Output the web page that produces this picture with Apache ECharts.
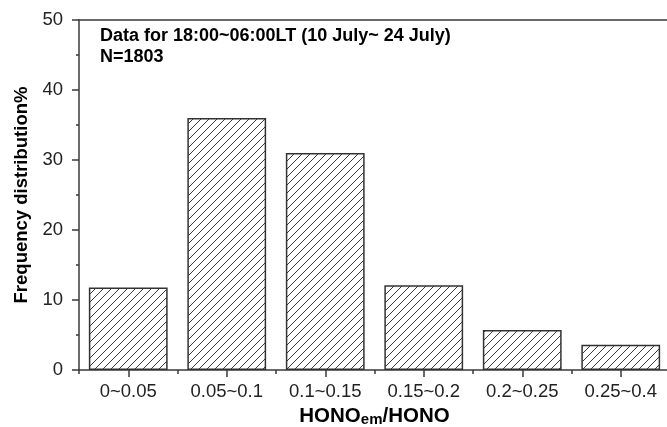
<!DOCTYPE html>
<html>
<head>
<meta charset="utf-8">
<script src="https://cdn.jsdelivr.net/npm/echarts@6/dist/echarts.min.js"></script>
<style>
  html, body { margin: 0; padding: 0; background: #fff; }
  #chart { width: 667px; height: 427px; }
</style>
</head>
<body>
<div id="chart"></div>
<script>
// ---- data ----
const categories = ['0~0.05', '0.05~0.1', '0.1~0.15', '0.15~0.2', '0.2~0.25', '0.25~0.4'];
const frequency = [11.8, 36.0, 31.0, 12.1, 5.7, 3.6];
const yTicks = [0, 10, 20, 30, 40, 50];
const annotationLines = ['Data for 18:00~06:00LT (10 July~ 24 July)', 'N=1803'];
const yAxisTitle = 'Frequency distribution%';

// ---- hatch pattern ----
function makeHatch() {
  const s = 8;
  const c = document.createElement('canvas');
  c.width = s; c.height = s;
  const g = c.getContext('2d');
  g.fillStyle = '#ffffff';
  g.fillRect(0, 0, s, s);
  g.strokeStyle = '#3a3a3a';
  g.lineWidth = 1;
  g.beginPath();
  g.moveTo(-1, s + 1); g.lineTo(s + 1, -1);
  g.moveTo(-1, 1); g.lineTo(1, -1);
  g.moveTo(s - 1, s + 1); g.lineTo(s + 1, s - 1);
  g.stroke();
  return c;
}

const FONT = '"Liberation Sans", Arial, Helvetica, sans-serif';
const axisColor = '#3a3a3a';

const chart = echarts.init(document.getElementById('chart'));
chart.setOption({
  animation: false,
  backgroundColor: '#ffffff',
  textStyle: { fontFamily: FONT },
  title: {
    text: annotationLines.join('\n'),
    left: 100,
    top: 26,
    padding: 0,
    textStyle: { fontFamily: FONT, fontSize: 18, fontWeight: 'bold', color: '#000', lineHeight: 21 }
  },
  grid: { left: 79, right: -3, top: 20, bottom: 57, containLabel: false, outerBoundsMode: 'none' },
  xAxis: [
    {
      type: 'category',
      data: categories,
      position: 'bottom',
      axisLine: { show: true, lineStyle: { color: axisColor, width: 1.5 } },
      axisTick: { show: true, alignWithLabel: true, length: 7, lineStyle: { color: axisColor, width: 1.5 } },
      axisLabel: { fontFamily: FONT, fontSize: 18.5, color: '#222', margin: 12 },
      name: '{b|HONO}{s|em}{b|/HONO}',
      nameLocation: 'middle',
      nameGap: 33,
      nameTextStyle: {
        rich: {
          b: { fontFamily: FONT, fontSize: 20.5, fontWeight: 'bold', color: '#000', lineHeight: 24, verticalAlign: 'top' },
          s: { fontFamily: FONT, fontSize: 15, fontWeight: 'bold', color: '#000', lineHeight: 24, verticalAlign: 'top', padding: [6, 0, 0, 0] }
        }
      }
    },
    {
      type: 'category',
      data: categories,
      position: 'bottom',
      axisLine: { show: false },
      axisTick: { show: true, length: 4, lineStyle: { color: axisColor, width: 1.5 } },
      axisLabel: { show: false },
      splitLine: { show: false }
    },
    {
      type: 'category',
      data: categories,
      position: 'top',
      axisLine: { show: true, lineStyle: { color: axisColor, width: 1.5 } },
      axisTick: { show: false },
      axisLabel: { show: false },
      splitLine: { show: false }
    }
  ],
  yAxis: {
    type: 'value',
    min: yTicks[0],
    max: yTicks[yTicks.length - 1],
    interval: 10,
    axisLine: { show: true, lineStyle: { color: axisColor, width: 1.5 } },
    axisTick: { show: true, length: 7, lineStyle: { color: axisColor, width: 1.5 } },
    minorTick: { show: true, splitNumber: 2, length: 3, lineStyle: { color: axisColor, width: 1.5 } },
    splitLine: { show: false },
    axisLabel: { fontFamily: FONT, fontSize: 18.5, color: '#222', margin: 16 },
    name: yAxisTitle,
    nameLocation: 'middle',
    nameGap: 47,
    nameTextStyle: { fontFamily: FONT, fontSize: 18.5, fontWeight: 'bold', color: '#000' }
  },
  series: [{
    type: 'bar',
    xAxisIndex: 0,
    data: frequency,
    barWidth: '80%',
    itemStyle: {
      color: { image: makeHatch(), repeat: 'repeat' },
      borderColor: '#333',
      borderWidth: 1.5
    }
  }]
});
</script>
</body>
</html>
